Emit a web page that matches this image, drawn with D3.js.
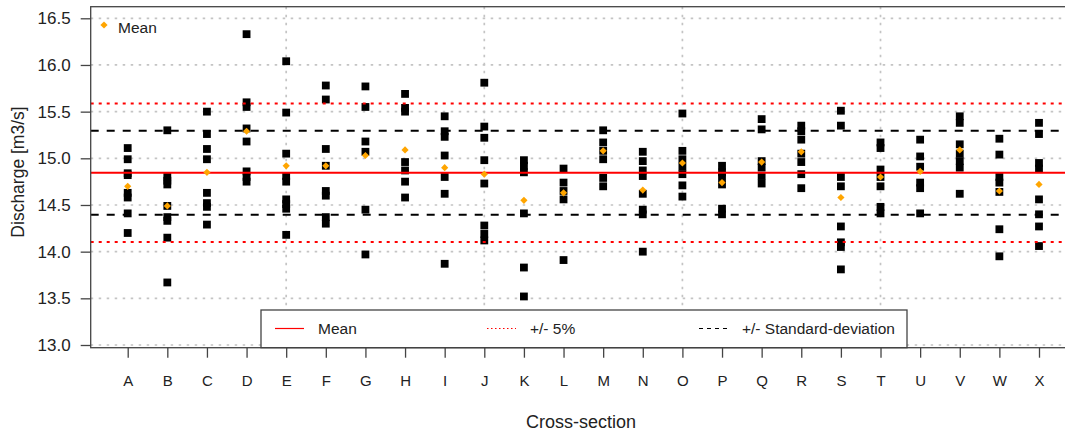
<!DOCTYPE html>
<html>
<head>
<meta charset="utf-8">
<script src="https://cdn.jsdelivr.net/npm/d3@7"></script>
<style>
  body { margin: 0; background: #fff; }
  text { font-family: "Liberation Sans", Arial, sans-serif; fill: #222; }
</style>
</head>
<body>
<svg id="chart"></svg>
<script>
// cross-sections on the x axis
const categories = ["A","B","C","D","E","F","G","H","I","J","K","L",
                    "M","N","O","P","Q","R","S","T","U","V","W","X"];

// discharge measurements per cross-section (m3/s)
const discharge = [
  [15.11, 14.99, 14.84, 14.82, 14.63, 14.58, 14.41, 14.20],
  [15.30, 14.80, 14.76, 14.72, 14.49, 14.37, 14.33, 14.15, 13.67],
  [15.50, 15.26, 15.10, 14.99, 14.63, 14.52, 14.48, 14.29],
  [16.33, 15.60, 15.55, 15.32, 15.18, 14.86, 14.80, 14.75],
  [16.04, 15.49, 15.05, 14.81, 14.75, 14.56, 14.51, 14.46, 14.18],
  [15.78, 15.63, 15.10, 14.92, 14.65, 14.60, 14.37, 14.30],
  [15.77, 15.55, 15.18, 15.07, 14.45, 13.97],
  [15.69, 15.54, 15.50, 14.96, 14.87, 14.75, 14.58],
  [15.45, 15.29, 15.23, 15.03, 14.80, 14.62, 13.87],
  [15.81, 15.34, 15.22, 14.98, 14.73, 14.28, 14.19, 14.12],
  [14.98, 14.92, 14.85, 14.41, 13.83, 13.52],
  [14.89, 14.74, 14.65, 14.56, 13.91],
  [15.30, 15.17, 15.08, 14.99, 14.79, 14.70],
  [15.07, 14.97, 14.87, 14.81, 14.62, 14.45, 14.40, 14.00],
  [15.48, 15.08, 14.99, 14.91, 14.83, 14.71, 14.59],
  [14.92, 14.85, 14.80, 14.72, 14.46, 14.40],
  [15.42, 15.31, 14.97, 14.90, 14.81, 14.73],
  [15.35, 15.29, 15.20, 15.05, 14.96, 14.83, 14.68],
  [15.51, 15.35, 14.80, 14.70, 14.27, 14.10, 14.05, 13.81],
  [15.17, 15.11, 14.88, 14.80, 14.70, 14.48, 14.41],
  [15.20, 15.02, 14.91, 14.74, 14.68, 14.41],
  [15.45, 15.38, 15.15, 15.05, 14.97, 14.90, 14.62],
  [15.21, 15.04, 14.80, 14.74, 14.64, 14.24, 13.95],
  [15.38, 15.26, 14.95, 14.89, 14.56, 14.40, 14.27, 14.06]
];

// mean per cross-section (orange diamonds)
const means = [14.70, 14.49, 14.85, 15.29, 14.92, 14.92, 15.03, 15.09, 14.90, 14.83, 14.55, 14.63,
               15.08, 14.66, 14.95, 14.74, 14.96, 15.07, 14.58, 14.80, 14.86, 15.09, 14.65, 14.72];

// overall reference lines
const overallMean = 14.846;
const stdDev = 0.45;
const yTicks = [13.0, 13.5, 14.0, 14.5, 15.0, 15.5, 16.0, 16.5];
const gridCats = ["E", "J", "O", "T"];

const W = 1065, H = 435;
const box = {left: 90.7, top: 6.7, right: 1076, bottom: 347.7};

const svg = d3.select("#chart")
    .attr("width", W)
    .attr("height", H);

svg.append("rect").attr("width", W).attr("height", H).attr("fill", "#fff");

const x = d3.scalePoint()
    .domain(categories)
    .range([127.7, 1039]);

const y = d3.scaleLinear()
    .domain([13, 16.5])
    .range([345, 18.3]);

// grid
yTicks.forEach(v => {
    svg.append("line")
        .attr("x1", box.left).attr("x2", box.right)
        .attr("y1", y(v)).attr("y2", y(v))
        .attr("stroke", "#c4c4c4")
        .attr("stroke-width", 1.7)
        .attr("stroke-dasharray", "2.5,5.5");
});
gridCats.forEach(c => {
    svg.append("line")
        .attr("x1", x(c)).attr("x2", x(c))
        .attr("y1", box.top).attr("y2", box.bottom)
        .attr("stroke", "#c4c4c4")
        .attr("stroke-width", 1.7)
        .attr("stroke-dasharray", "2.5,5.5");
});

// measurement squares
const sq = 7.8;
discharge.forEach((vals, i) => {
    svg.append("g").selectAll("rect")
        .data(vals)
        .join("rect")
        .attr("x", x(categories[i]) - sq/2)
        .attr("y", d => y(d) - sq/2)
        .attr("width", sq)
        .attr("height", sq)
        .attr("fill", "#000");
});

// reference lines
const refLines = [
    {v: overallMean, color: "red", dash: null},
    {v: overallMean * 1.05, color: "red", dash: "3,5"},
    {v: overallMean * 0.95, color: "red", dash: "3,5"},
    {v: overallMean + stdDev, color: "#000", dash: "8,8"},
    {v: overallMean - stdDev, color: "#000", dash: "8,8"}
];
refLines.forEach(l => {
    svg.append("line")
        .attr("x1", box.left).attr("x2", box.right)
        .attr("y1", y(l.v)).attr("y2", y(l.v))
        .attr("stroke", l.color)
        .attr("stroke-width", 2)
        .attr("stroke-dasharray", l.dash);
});

// mean diamonds
const diamond = "M0,-3.6L3.6,0L0,3.6L-3.6,0Z";
svg.append("g").selectAll("path")
    .data(means)
    .join("path")
    .attr("d", diamond)
    .attr("transform", (d, i) => `translate(${x(categories[i])},${y(d)})`)
    .attr("fill", "#ffa500");

// axes
const yAxis = svg.append("g")
    .attr("transform", `translate(${box.left},0)`)
    .call(d3.axisLeft(y).tickValues(yTicks).tickFormat(d3.format(".1f")).tickSize(10).tickPadding(10));
yAxis.select(".domain").remove();
yAxis.selectAll("line").attr("stroke", "#444").attr("stroke-width", 1.3);
yAxis.selectAll("text").attr("font-size", 17).attr("fill", "#222")
    .style("font-family", "'Liberation Sans', Arial, sans-serif");

const xAxis = svg.append("g")
    .attr("transform", `translate(0,${box.bottom})`)
    .call(d3.axisBottom(x).tickSize(10).tickPadding(18));
xAxis.select(".domain").remove();
xAxis.selectAll("line").attr("stroke", "#444").attr("stroke-width", 1.3);
xAxis.selectAll("text").attr("font-size", 15).attr("fill", "#222")
    .style("font-family", "'Liberation Sans', Arial, sans-serif");

// axis titles
svg.append("text")
    .attr("transform", "translate(24,172) rotate(-90)")
    .attr("text-anchor", "middle")
    .attr("font-size", 17.5)
    .text("Discharge [m3/s]");

svg.append("text")
    .attr("x", 581)
    .attr("y", 428)
    .attr("text-anchor", "middle")
    .attr("font-size", 18)
    .text("Cross-section");

// bottom legend
svg.append("rect")
    .attr("x", 261).attr("y", 310)
    .attr("width", 646).attr("height", box.bottom - 310)
    .attr("fill", "#fff")
    .attr("stroke", "#444")
    .attr("stroke-width", 1.3);

const legendItems = [
    {label: "Mean", color: "red", dash: null, x0: 275},
    {label: "+/- 5%", color: "red", dash: "1.5,2.5", x0: 487},
    {label: "+/- Standard-deviation", color: "#000", dash: "4,4", x0: 699}
];
legendItems.forEach(it => {
    svg.append("line")
        .attr("x1", it.x0).attr("x2", it.x0 + 29)
        .attr("y1", 328.5).attr("y2", 328.5)
        .attr("stroke", it.color)
        .attr("stroke-width", 1.2)
        .attr("stroke-dasharray", it.dash);
    svg.append("text")
        .attr("x", it.x0 + 43)
        .attr("y", 334)
        .attr("font-size", 15.5)
        .text(it.label);
});

// top-left legend
svg.append("path")
    .attr("d", diamond)
    .attr("transform", "translate(104,25)")
    .attr("fill", "#ffa500");
svg.append("text")
    .attr("x", 118)
    .attr("y", 32.5)
    .attr("font-size", 15.5)
    .text("Mean");

// plot frame
svg.append("rect")
    .attr("x", box.left).attr("y", box.top)
    .attr("width", box.right - box.left).attr("height", box.bottom - box.top)
    .attr("fill", "none")
    .attr("stroke", "#444")
    .attr("stroke-width", 1.3);
</script>
</body>
</html>
